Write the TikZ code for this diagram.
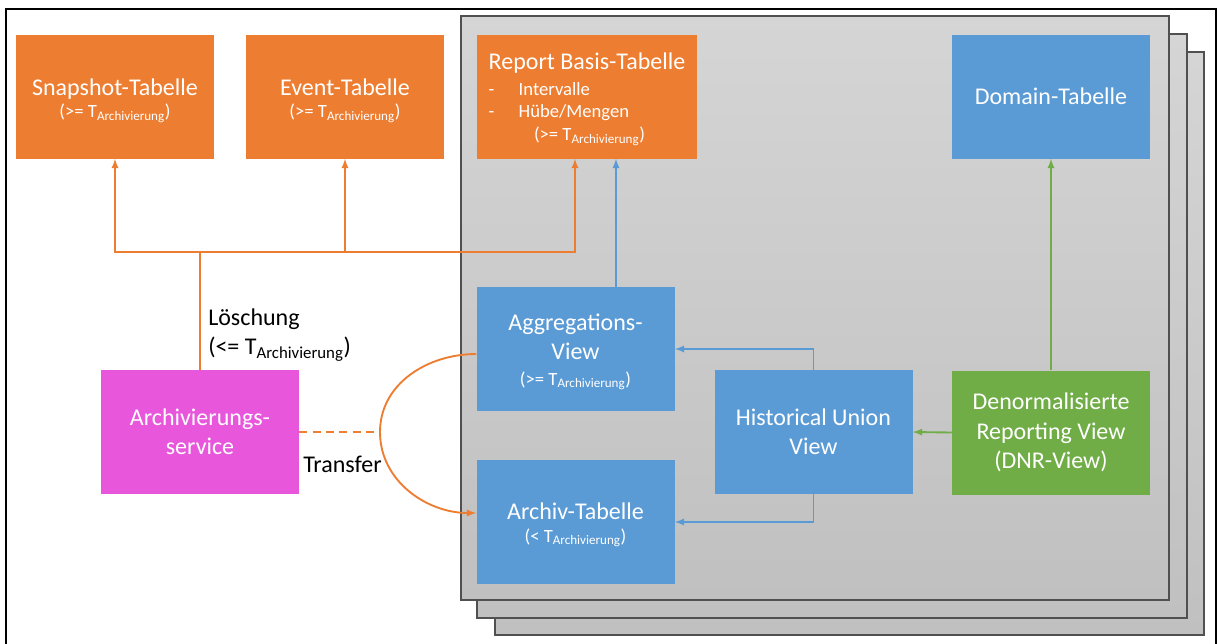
\documentclass[tikz,border=0pt]{standalone}
\usepackage{fontspec}
\setmainfont{Carlito}
\definecolor{orangebox}{RGB}{237,125,49}
\definecolor{bluebox}{RGB}{91,155,213}
\definecolor{greenbox}{RGB}{112,173,71}
\definecolor{pinkbox}{RGB}{232,86,220}
\definecolor{paneltop}{RGB}{213,213,213}
\definecolor{panelbot}{RGB}{192,192,192}
\definecolor{panelline}{RGB}{80,80,80}
\newcommand{\tarch}{T\textsubscript{Archivierung}}
\newcommand{\bigfont}{\fontsize{18}{22}\selectfont}
\newcommand{\smallfont}{\fontsize{14}{17}\selectfont}
\begin{document}
\begin{tikzpicture}[x=0.75pt, y=-0.75pt, >=latex,
	box/.style = {rectangle, inner sep=0pt, minimum width=148.5pt, minimum height=93pt, align=center, text=white, font=\bigfont},
	panel/.style = {draw=panelline, line width=1pt, top color=paneltop, bottom color=panelbot},
	orangeline/.style = {draw=orangebox, line width=1.4pt},
	blueline/.style = {draw=bluebox, line width=1.4pt},
	greenline/.style = {draw=greenbox, line width=1.4pt}]
		\useasboundingbox (0,0) rectangle (1219,643);
		% outer frame
		\draw[line width=1.5pt] (6,650) -- (6,9) -- (1216,9) -- (1216,650);
		% stacked panels
		\path[panel] (495,52) rectangle (1204,635);
		\path[panel] (477,34) rectangle (1187,618);
		\path[panel] (461,16) rectangle (1169,600);
		% tables
		\node[box, fill=orangebox] (snap) at (115,96.5) {\rule{0pt}{19pt}Snapshot-Tabelle\\[-5pt]{\smallfont(>= \tarch)}};
		\node[box, fill=orangebox] (event) at (345,96.5) {\rule{0pt}{19pt}Event-Tabelle\\[-5pt]{\smallfont(>= \tarch)}};
		\node[box, fill=orangebox, minimum width=165pt, align=left, font=\smallfont] (report) at (587,96.5)
			{\rule{0pt}{17pt}{\bigfont Report Basis-Tabelle}\\[2pt]
			\makebox[22.5pt][l]{-}Intervalle\\
			\makebox[22.5pt][l]{-}Hübe/Mengen\\
			\hspace*{34pt}(>= \tarch)};
		\node[box, fill=bluebox] (domain) at (1051,96.5) {Domain-Tabelle};
		% views
		\node[box, fill=bluebox] (agg) at (575.5,349) {\rule{0pt}{17pt}Aggregations-\\View\\[-3pt]{\smallfont(>= \tarch)}};
		\node[box, fill=bluebox] (archiv) at (575.5,522) {\rule{0pt}{17pt}Archiv-Tabelle\\[-5pt]{\smallfont(< \tarch)}};
		\node[box, fill=bluebox] (hist) at (813.5,432) {Historical Union\\View};
		\node[box, fill=greenbox] (dnr) at (1051,432.5) {Denormalisierte\\Reporting View\\(DNR-View)};
		\node[box, fill=pinkbox] (arch) at (200,432) {Archivierungs-\\service};
		% labels
		\node[anchor=west, align=left, font=\bigfont, inner sep=0pt] (loesch) at (208,335) {Löschung\\(<= \tarch)};
		\node[anchor=west, font=\bigfont, inner sep=0pt] (transfer) at (303,464) {Transfer};
		% deletion
		\coordinate (split) at (200,252);
		\draw[orangeline] (arch.north) -- (split);
		\draw[orangeline, ->] (split) -| (snap.south);
		\draw[orangeline, ->] (split) -| (event.south);
		\draw[orangeline, ->] (split) -| ([xshift=-9pt]report.south);
		% transfer
		\coordinate (bend) at (380,432);
		\draw[orangeline, dashed, dash pattern=on 6pt off 4pt] (arch.east) -- (bend);
		\draw[orangeline, ->] ([yshift=-3.75pt]agg.west) to[out=180, in=90] (bend)
			to[out=-90, in=180] ([yshift=6.75pt]archiv.west);
		% views
		\coordinate (aggtop) at (616,287);
		\draw[blueline, ->] (aggtop) -- (aggtop |- report.south);
		\draw[blueline, ->] (hist.north) |- (agg.east);
		\draw[blueline, ->] (hist.south) |- (archiv.east);
		\draw[greenline, ->] (dnr.west) -- (hist.east);
		\draw[greenline, ->] (dnr.north) -- (domain.south);
\end{tikzpicture}
\end{document}
